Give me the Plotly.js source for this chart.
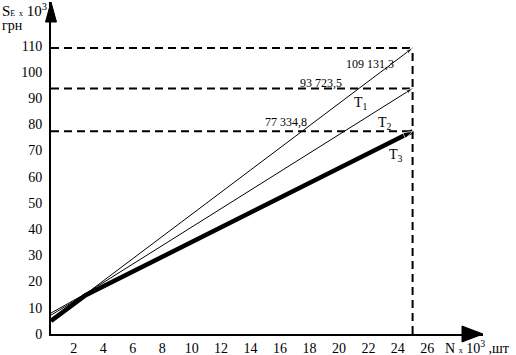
<!DOCTYPE html>
<html>
<head>
<meta charset="utf-8">
<script src="https://cdn.plot.ly/plotly-3.0.1.min.js"></script>
<style>html,body{margin:0;padding:0;background:#fff;}#chart{width:516px;height:355px;}</style>
</head>
<body>
<div id="chart"></div>
<script>
// ---- data (N in thousands of pcs, S in thousands of UAH) ----
const nPoints = [0.45, 2.8, 25];
const t1Values = [7.2, 15.2, 109.1313];
const t2Values = [8.0, 15.4, 93.7235];
const t3Values = [5.0, 14.8, 77.3348];
const seriesNames = ["T<sub>1</sub>", "T<sub>2</sub>", "T<sub>3</sub>"];
const endLabels = ["109 131,3", "93 723,5", "77 334,8"];
const xTickVals = [2, 4, 6, 8, 10, 12, 14, 16, 18, 20, 22, 24, 26];
const yTickVals = [0, 10, 20, 30, 40, 50, 60, 70, 80, 90, 100, 110];

const xRange = [0.45, 29.78];
const yRange = [0, 126.7];
const FONT = "Liberation Serif, Times New Roman, serif";
const nEnd = nPoints[nPoints.length - 1];
const seriesVals = [t1Values, t2Values, t3Values];
const widths = [1, 1, 4.5];
const arrowSizes = [7, 7, 10];

const traces = seriesVals.map((v, i) => ({
  x: nPoints, y: v, type: "scatter", mode: "lines+markers",
  line: {color: "#000", width: widths[i]},
  marker: {
    symbol: "arrow", angleref: "previous", color: "#000",
    size: nPoints.map((_, k) => k === nPoints.length - 1 ? arrowSizes[i] : 0)
  },
  hoverinfo: "skip", showlegend: false
}));

const endVals = seriesVals.map(v => v[v.length - 1]);
const dashStyle = "8px,5px";
const shapes = [];
endVals.forEach(v => shapes.push({
  type: "line", xref: "x", yref: "y", x0: xRange[0], x1: nEnd, y0: v, y1: v,
  line: {color: "#000", width: 2, dash: dashStyle}, layer: "below"
}));
shapes.push({
  type: "line", xref: "x", yref: "y", x0: nEnd, x1: nEnd, y0: 0, y1: Math.max(...endVals),
  line: {color: "#000", width: 2, dash: dashStyle}, layer: "below"
});
// axis arrowheads
shapes.push({type: "path", xref: "paper", yref: "paper", xsizemode: "pixel", ysizemode: "pixel",
  xanchor: 0, yanchor: 1, path: "M0,0 L-5.5,-20 L5.5,-20 Z",
  fillcolor: "#000", line: {color: "#000", width: 1}});
shapes.push({type: "path", xref: "paper", yref: "paper", xsizemode: "pixel", ysizemode: "pixel",
  xanchor: 1, yanchor: 0, path: "M0,0 L-21,8 L-21,-8 Z",
  fillcolor: "#000", line: {color: "#000", width: 1}});

const labelPos = [[22.1, 103.1], [18.8, 95.8], [16.4, 80.9]];
const namePos = [[21.5, 87.8], [23.1, 80.5], [23.9, 68.3]];
const annotations = [];
endLabels.forEach((t, i) => annotations.push({
  x: labelPos[i][0], y: labelPos[i][1], xref: "x", yref: "y", text: t, showarrow: false,
  font: {family: FONT, size: 12, color: "#000"}
}));
seriesNames.forEach((t, i) => annotations.push({
  x: namePos[i][0], y: namePos[i][1], xref: "x", yref: "y", text: t, showarrow: false,
  font: {family: FONT, size: 14, color: "#000"}
}));
annotations.push({
  xref: "paper", yref: "paper", x: -0.118, y: 0.976, xanchor: "left", yanchor: "middle",
  text: "S<span style='font-size:8px'>E</span> <span style='font-size:8px'>x</span> 10<sup>3</sup>,",
  showarrow: false, font: {family: FONT, size: 15, color: "#000"}
});
annotations.push({
  xref: "paper", yref: "paper", x: -0.118, y: 0.928, xanchor: "left", yanchor: "middle",
  text: "грн", showarrow: false, font: {family: FONT, size: 14, color: "#000"}
});
annotations.push({
  xref: "paper", yref: "paper", x: 0.907, y: -0.039, xanchor: "left", yanchor: "middle",
  text: "N <span style='font-size:8px'>x</span> 10<sup>3</sup> ,шт",
  showarrow: false, font: {family: FONT, size: 14, color: "#000"}
});

const layout = {
  width: 516, height: 355,
  margin: {l: 51, r: 33, t: 2, b: 21, pad: 0},
  paper_bgcolor: "#fff", plot_bgcolor: "#fff",
  font: {family: FONT, size: 14, color: "#000"},
  xaxis: {
    range: xRange, tickvals: xTickVals, showgrid: false, zeroline: false,
    showline: true, linecolor: "#000", linewidth: 2, ticks: "",
    tickfont: {family: FONT, size: 14, color: "#000"}, fixedrange: true
  },
  yaxis: {
    range: yRange, tickvals: yTickVals, showgrid: false, zeroline: false,
    showline: true, linecolor: "#000", linewidth: 2, ticks: "",
    ticklabelstandoff: 4,
    tickfont: {family: FONT, size: 14, color: "#000"}, fixedrange: true
  },
  shapes: shapes, annotations: annotations, showlegend: false
};

Plotly.newPlot("chart", traces, layout, {staticPlot: true, displayModeBar: false});
</script>
</body>
</html>
